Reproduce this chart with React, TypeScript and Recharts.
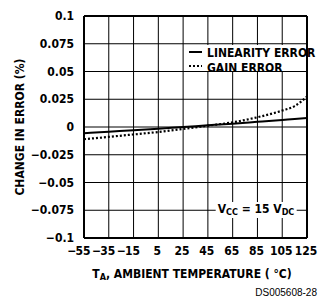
import React from "react";
import {
  LineChart,
  Line,
  XAxis,
  YAxis,
} from "recharts";

const temps = [-55, -35, -15, 5, 25, 45, 65, 85, 105, 115, 125];
const linearityError = [-0.0056, -0.0042, -0.0029, -0.0015, 0, 0.0015, 0.003, 0.0047, 0.0064, 0.0072, 0.0081];
const gainError = [-0.011, -0.0089, -0.0067, -0.0045, -0.0018, 0.0012, 0.0042, 0.0088, 0.0148, 0.0188, 0.0275];

const xTicks = [-55, -35, -15, 5, 25, 45, 65, 85, 105, 125];
const yTicks = [-0.1, -0.075, -0.05, -0.025, 0, 0.025, 0.05, 0.075, 0.1];

const X_MIN = xTicks[0];
const X_MAX = xTicks[xTicks.length - 1];
const Y_MIN = yTicks[0];
const Y_MAX = yTicks[yTicks.length - 1];

const data = temps.map((t, i) => ({ t, lin: linearityError[i], gain: gainError[i] }));

const CHART_W = 320;
const CHART_H = 302;
const MARGIN = { top: 15, right: 12, bottom: 34, left: 0 };
const Y_AXIS_W = 84;
const X_AXIS_H = 30;
// plot box implied by the layout above (top axis height 1, right axis width 1)
const PLOT_L = MARGIN.left + Y_AXIS_W;
const PLOT_R = CHART_W - MARGIN.right - 1;
const PLOT_T = MARGIN.top + 1;
const PLOT_B = CHART_H - MARGIN.bottom - X_AXIS_H;
const gx = (v: number) => PLOT_L + ((v - X_MIN) / (X_MAX - X_MIN)) * (PLOT_R - PLOT_L);
const gy = (v: number) => PLOT_B - ((v - Y_MIN) / (Y_MAX - Y_MIN)) * (PLOT_B - PLOT_T);

const FONT = "'Liberation Sans Narrow', 'DejaVu Sans Condensed', 'Arial Narrow', sans-serif";
const TICK_SIZE = 12;

const fmtY = (v: number) => {
  if (v === 0) return "0";
  const s = String(Math.abs(v));
  return v < 0 ? "\u2212" + s : s;
};

const EmptyTick = () => <g />;

const XTick = (props: any) => {
  const { x, y, payload } = props;
  const v: number = payload.value;
  const digits = String(Math.abs(v));
  const half = digits.length * 2.9;
  return (
    <g>
      <text
        x={x - 1}
        y={y + 9}
        textAnchor="middle"
        fontFamily={FONT}
        fontWeight="bold"
        fontSize={TICK_SIZE}
        fill="#000"
      >
        {digits}
      </text>
      {v < 0 && (
        <text
          x={x - 1 - half - 1}
          y={y + 9}
          textAnchor="end"
          fontFamily={FONT}
          fontWeight="bold"
          fontSize={TICK_SIZE}
          fill="#000"
        >
          {"\u2212"}
        </text>
      )}
    </g>
  );
};

const YTick = (props: any) => {
  const { x, y, payload } = props;
  return (
    <text
      x={x - 2}
      y={y + 4}
      textAnchor="end"
      fontFamily={FONT}
      fontWeight="bold"
      fontSize={TICK_SIZE}
      fill="#000"
    >
      {fmtY(payload.value)}
    </text>
  );
};

const textBase: React.CSSProperties = {
  position: "absolute",
  fontFamily: FONT,
  fontWeight: "bold",
  fontSize: 12,
  color: "#000",
  whiteSpace: "nowrap",
  lineHeight: 1,
};

export default function App() {
  return (
    <div style={{ position: "absolute", left: 0, top: 0, width: CHART_W, height: CHART_H, background: "#fff" }}>
      {/* grid (behind the chart) */}
      <svg
        width={CHART_W}
        height={CHART_H}
        style={{ position: "absolute", left: 0, top: 0 }}
      >
        {yTicks.map((v) => (
          <line key={"h" + v} x1={PLOT_L} x2={PLOT_R} y1={gy(v)} y2={gy(v)} stroke="#000" strokeWidth={1} />
        ))}
        {xTicks.map((t) => (
          <line key={"v" + t} x1={gx(t)} x2={gx(t)} y1={PLOT_T} y2={PLOT_B} stroke="#000" strokeWidth={1} />
        ))}
      </svg>

      <LineChart width={CHART_W} height={CHART_H} data={data} margin={MARGIN}>
        <XAxis
          xAxisId="b"
          dataKey="t"
          type="number"
          domain={[X_MIN, X_MAX]}
          ticks={xTicks}
          tickLine={false}
          stroke="#000"
          axisLine={{ stroke: "#000", strokeWidth: 2 }}
          tick={<XTick />}
          interval={0}
          height={X_AXIS_H}
        />
        <XAxis
          xAxisId="top"
          orientation="top"
          dataKey="t"
          type="number"
          domain={[X_MIN, X_MAX]}
          ticks={xTicks}
          interval={0}
          stroke="#000"
          tickLine={false}
          axisLine={{ stroke: "#000", strokeWidth: 2 }}
          tick={<EmptyTick />}
          height={1}
        />
        <YAxis
          yAxisId="l"
          type="number"
          domain={[Y_MIN, Y_MAX]}
          ticks={yTicks}
          width={Y_AXIS_W}
          tickLine={false}
          stroke="#000"
          axisLine={{ stroke: "#000", strokeWidth: 2 }}
          tick={<YTick />}
          interval={0}
        />
        <YAxis
          yAxisId="r"
          orientation="right"
          type="number"
          domain={[Y_MIN, Y_MAX]}
          ticks={yTicks}
          interval={0}
          stroke="#000"
          tickLine={false}
          axisLine={{ stroke: "#000", strokeWidth: 2 }}
          tick={<EmptyTick />}
          width={1}
        />
        <Line
          xAxisId="b"
          yAxisId="l"
          dataKey="gain"
          type="monotone"
          stroke="#000"
          strokeWidth={2.2}
          strokeDasharray="2 2"
          dot={false}
          isAnimationActive={false}
        />
        <Line
          xAxisId="b"
          yAxisId="l"
          dataKey="lin"
          type="monotone"
          stroke="#000"
          strokeWidth={2}
          dot={false}
          isAnimationActive={false}
        />
      </LineChart>

      {/* Legend */}
      <div style={{ position: "absolute", left: 185, top: 45, width: 120, height: 26, background: "#fff" }}>
        <svg width={16} height={27} style={{ position: "absolute", left: 3, top: 0 }}>
          <line x1={1} y1={7} x2={14} y2={7} stroke="#000" strokeWidth={2} />
          <line x1={1} y1={21} x2={14} y2={21} stroke="#000" strokeWidth={2} strokeDasharray="2 2" />
        </svg>
        <div style={{ ...textBase, left: 22, top: 2 }}>LINEARITY ERROR</div>
        <div style={{ ...textBase, left: 22, top: 17 }}>GAIN ERROR</div>
      </div>

      {/* VCC label */}
      <div
        style={{
          ...textBase,
          left: 256,
          top: 210,
          transform: "translate(-50%, -50%)",
          background: "#fff",
          padding: "1px 2px",
        }}
      >
        V<sub style={{ fontSize: 9, verticalAlign: "-2px" }}>CC</sub> = 15 V
        <sub style={{ fontSize: 9, verticalAlign: "-2px" }}>DC</sub>
      </div>

      {/* Y axis title */}
      <div
        style={{
          ...textBase,
          left: 20,
          top: 127,
          transform: "translate(-50%, -50%) rotate(-90deg)",
        }}
      >
        CHANGE IN ERROR (%)
      </div>

      {/* X axis title */}
      <div
        style={{
          ...textBase,
          left: 192,
          top: 275,
          transform: "translate(-50%, -50%)",
        }}
      >
        T<sub style={{ fontSize: 9, verticalAlign: "-2px" }}>A</sub>, AMBIENT TEMPERATURE ( °C)
      </div>

      {/* Figure code */}
      <div
        style={{
          position: "absolute",
          right: 3,
          top: 293,
          transform: "translateY(-50%)",
          fontFamily: "'Liberation Sans', Arial, sans-serif",
          fontSize: 10,
          color: "#000",
          whiteSpace: "nowrap",
          lineHeight: 1,
        }}
      >
        DS005608-28
      </div>
    </div>
  );
}
